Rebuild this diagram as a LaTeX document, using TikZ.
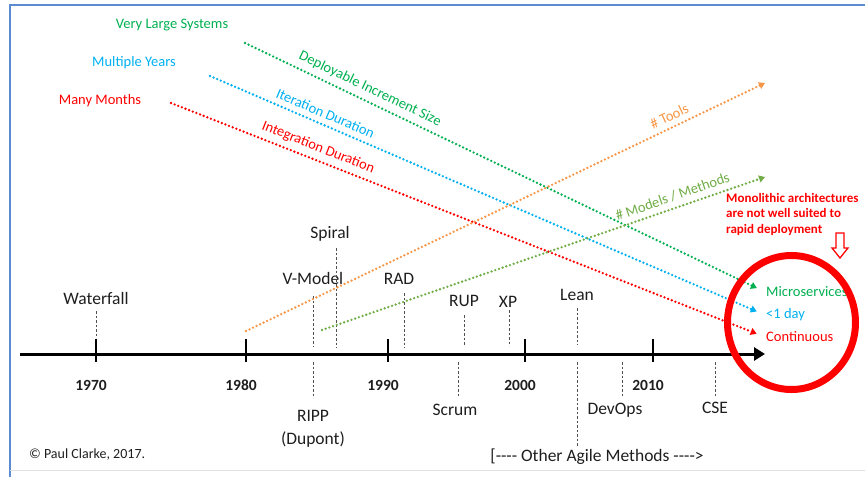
\documentclass[tikz,border=0pt]{standalone}
\usepackage{fontspec}
\setmainfont{Carlito}
\usepackage{xcolor}
\usetikzlibrary{arrows.meta,positioning,shapes.geometric}
\definecolor{sysgreen}{RGB}{0,176,80}
\definecolor{durblue}{RGB}{0,176,240}
\definecolor{intred}{RGB}{255,0,0}
\definecolor{toolorange}{RGB}{247,150,70}
\definecolor{modgreen}{RGB}{112,173,71}
\definecolor{frameblue}{RGB}{91,140,210}
\definecolor{leadgrey}{RGB}{80,80,80}
\definecolor{inkgrey}{RGB}{30,30,30}
\newcommand{\fsz}[1]{\fontsize{#1}{#1}\selectfont}
\newcommand{\hyph}{-{}-{}-{}-}
\tikzset{
  trend/.style={line width=2.6pt, dash pattern=on 0pt off 3.9pt, line cap=round,
    -{Triangle[width=7pt,length=6pt]}},
  method/.style={font=\fsz{17.5}, text=inkgrey, inner sep=1pt},
  year/.style={font=\fsz{15.5}\bfseries, text=inkgrey, inner sep=1pt},
  side/.style={font=\fsz{14.5}, inner sep=1pt},
  leader/.style={draw=leadgrey, line width=0.8pt, dash pattern=on 2.5pt off 2pt},
  tick/.style={line width=2.5pt}
}

\begin{document}
\begin{tikzpicture}[x=1pt,y=-1pt]
  \useasboundingbox (0,0) rectangle (865,477);
  % frame
  \draw[frameblue, line width=2pt] (9.5,477) -- (9.5,5) -- (865,5);
  \draw[black!12, line width=1pt] (9.5,470) -- (865,470);

  % time line
  \coordinate (t-start) at (20,354);
  \coordinate (t-end) at (765,354);
  \draw[line width=3pt, -{Triangle[width=13pt,length=11pt]}] (t-start) -- (t-end);
  \foreach \x/\yr in {96/1970, 246/1980, 388/1990, 525/2000, 653/2010} {
    \draw[tick] (\x,339) -- (\x,362);
    \node[year] at (\x-5,385) {\yr};
  }

  % methods
  \node[method] (waterfall) at (96,298) {Waterfall};
  \node[method] (vmodel) at (313,278) {V-Model};
  \node[method] (spiral) at (330,234) {Spiral};
  \node[method] (rad) at (399,279) {RAD};
  \node[method] (rup) at (464,301) {RUP};
  \node[method] (xp) at (508,302) {XP};
  \node[method] (lean) at (577,295) {Lean};
  \node[method, align=center] (ripp) at (313,429) {RIPP\\[5pt](Dupont)};
  \node[method] (scrum) at (455,410) {Scrum};
  \node[method] (devops) at (615,410) {DevOps};
  \node[method] (cse) at (715,408) {CSE};
  \node[method] (agile) at (597,457) {[\hyph{} Other Agile Methods \hyph>};
  \foreach \x/\ya/\yb in {96/311/338, 313/296/346, 336/248/348, 404/293/348,
      464/315/345, 509/310/346, 577/308/345, 313/362/398, 458/362/397,
      577/362/447, 622/362/396, 715/362/396}
    \draw[leader] (\x,\ya) -- (\x,\yb);

  % trends
  \node[side, sysgreen, anchor=west] (micro) at (765,292) {Microservices};
  \node[side, durblue, anchor=west] (oneday) at (765,315) {<1 day};
  \node[side, intred, anchor=west] (cont) at (765,337) {Continuous};
  \node[side, sysgreen] (vls) at (172,25) {Very Large Systems};
  \node[side, durblue] (myears) at (134,63) {Multiple Years};
  \node[side, intred] (mmonths) at (100,101) {Many Months};
  \coordinate (dis-start) at (245,43);
  \coordinate (itd-start) at (210,76);
  \coordinate (ind-start) at (171,103);
  \coordinate (tools-start) at (246,331);
  \coordinate (tools-end) at (765,83);
  \coordinate (models-start) at (322,330);
  \coordinate (models-end) at (765,177);
  \draw[trend, sysgreen, shorten >=9pt] (dis-start) --
    node[side, sloped, above=4pt, pos=0.23] {Deployable Increment Size} (micro.west);
  \draw[trend, durblue, shorten >=9pt] (itd-start) --
    node[side, sloped, above=4pt, pos=0.2] {Iteration Duration} (oneday.west);
  \draw[trend, intred, shorten >=9pt] (ind-start) --
    node[side, sloped, above=4pt, pos=0.24] {Integration Duration} (cont.west);
  \draw[trend, toolorange] (tools-start) --
    node[side, sloped, above=4pt, pos=0.825] {\# Tools} (tools-end);
  \draw[trend, modgreen] (models-start) --
    node[side, sloped, above=4pt, pos=0.8] {\# Models / Methods} (models-end);

  % focus
  \node[ellipse, draw=intred, line width=7pt, minimum width=128pt, minimum height=134pt,
    inner sep=0pt] (focus) at (791.5,322.5) {};
  \node[font=\fsz{13}\bfseries, text=intred, align=left, anchor=north west, inner sep=0pt]
    (mono) at (726,193) {Monolithic architectures\\[2.5pt]are not well suited to\\[2.5pt]rapid deployment};
  \draw[intred, line width=1.3pt, line join=miter] (836,233) -- (844,233) -- (844,248) -- (848,248)
    -- (840,258) -- (832,248) -- (836,248) -- cycle;

  \node[font=\fsz{14}, text=inkgrey, anchor=west, inner sep=0pt] (copy) at (29,455) {© Paul Clarke, 2017.};
\end{tikzpicture}
\end{document}
